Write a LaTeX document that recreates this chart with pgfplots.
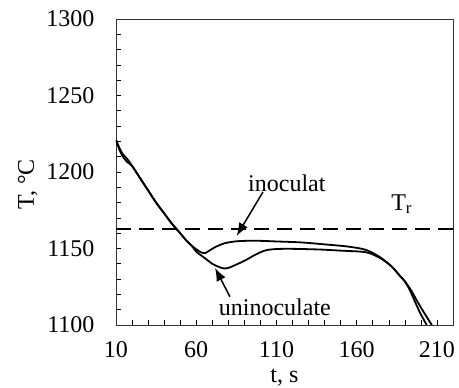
\documentclass[border=0pt]{standalone}
\usepackage{fontspec}
\setmainfont{Liberation Serif}
\usepackage{pgfplots}
\pgfplotsset{compat=1.18}
\usetikzlibrary{arrows.meta}
\begin{document}
\begin{tikzpicture}
\path[use as bounding box] (-116pt,-63pt) rectangle (343pt,325pt);
\begin{axis}[
  at={(0,0)}, anchor=south west,
  scale only axis, width=337pt, height=306pt,
  xmin=10, xmax=220, ymin=1100, ymax=1300,
  xtick={10,60,110,160,210},
  minor xtick={20,30,40,50,70,80,90,100,120,130,140,150,170,180,190,200},
  ytick={1100,1150,1200,1250,1300},
  minor ytick={1110,1120,1130,1140,1160,1170,1180,1190,1210,1220,1230,1240,1260,1270,1280,1290},
  tick align=inside, xtick pos=bottom, ytick pos=left,
  major tick length=5pt, minor tick length=5pt,
  tick style={black, line width=0.6pt},
  axis line style={line width=0.7pt, black!80},
  /pgf/number format/assume math mode=true,
  /pgf/number format/1000 sep={},
  ticklabel style={font=\fontsize{24}{28}\selectfont},
  xticklabel style={anchor=center, yshift=-25pt, inner sep=0pt},
  yticklabel style={anchor=east, xshift=-18pt},
  label style={font=\fontsize{24}{28}\selectfont},
  xlabel={t, s}, ylabel={T, °C},
  xlabel style={at={(axis description cs:0.5,0)}, anchor=center, yshift=-53pt, inner sep=0pt},
  ylabel style={at={(axis description cs:-0.262,0.46)}, anchor=center},
  clip=true,
]
\addplot[black, line width=1.8pt, smooth, tension=0.5] coordinates {
(10,1221) (12,1216) (14,1212) (17,1208.5) (20,1204) (25,1196) (30,1188) (35,1180) (40,1173) (45,1166) (50,1160) (54,1155) (57,1152) (60,1149.5) (63,1147.5) (65.5,1147) (68,1148.5) (72,1151) (78,1153.5) (85,1154.7) (91,1155) (100,1155) (110,1154.6) (125,1154) (140,1152.7) (155,1151.2) (166,1149) (175,1144) (182,1138) (187,1132) (190,1128.5) (193,1123) (196,1116) (199,1109) (201.5,1104) (203.6,1100)
};
\addplot[black, line width=1.8pt, smooth, tension=0.5] coordinates {
(10,1221) (12,1215) (14,1210.5) (17,1206.5) (20,1204) (25,1196) (30,1188) (35,1180) (40,1173) (45,1166) (50,1160) (54,1155) (57,1152) (60,1148) (63,1145.5) (65.5,1143.6) (70,1140) (74,1138) (77,1137) (80,1137.3) (85,1139.5) (91,1142.5) (97,1146) (104,1149) (115,1149.8) (135,1149.4) (150,1148.6) (166,1147.5) (175,1143.5) (182,1138) (187,1132) (190,1128.5) (194,1122.5) (198,1115) (202,1108) (205,1103) (206.8,1100)
};
\addplot[black, line width=2pt, dash pattern=on 15pt off 8pt] coordinates {(10,1163) (220,1163)};
\node[font=\fontsize{24}{28}\selectfont] at (axis cs:116.5,1192.5) {inoculat};
\node[font=\fontsize{24}{28}\selectfont] at (axis cs:188,1179) {T\textsubscript{r}};
\node[font=\fontsize{24}{28}\selectfont] at (axis cs:109,1111.5) {uninoculate};
\draw[-{Latex[length=13pt,width=10pt]}, line width=1.5pt] (axis cs:101.6,1187) -- (axis cs:85.2,1158.2);
\draw[-{Latex[length=13pt,width=10pt]}, line width=1.5pt] (axis cs:81,1118.5) -- (axis cs:71.7,1137.3);
\end{axis}
\end{tikzpicture}
\end{document}
